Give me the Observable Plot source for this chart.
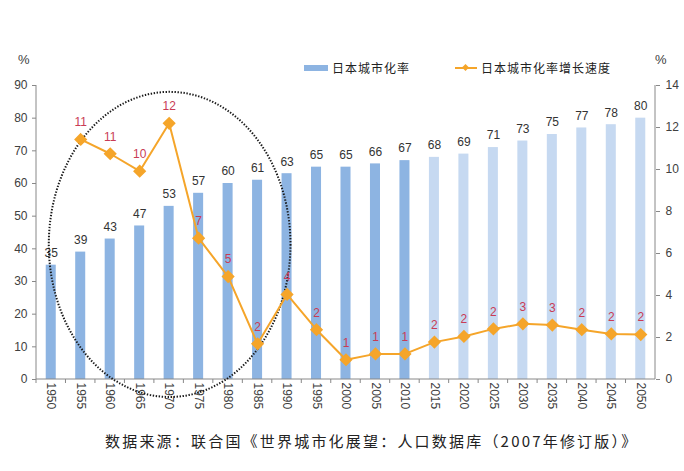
<!DOCTYPE html>
<html><head><meta charset="utf-8">
<script src="https://cdn.jsdelivr.net/npm/d3@7"></script>
<script src="https://cdn.jsdelivr.net/npm/@observablehq/plot@0.6"></script>
<style>
body{margin:0;background:#fff;font-family:"Liberation Sans",Arial,sans-serif;}
#wrap{position:relative;width:684px;height:471px;overflow:hidden;}
.cjk{font-family:"Noto Sans CJK SC",sans-serif;}
.abs{position:absolute;white-space:nowrap;}
</style></head>
<body><div id="wrap"></div>
<script>
const years = ["1950","1955","1960","1965","1970","1975","1980","1985","1990","1995","2000","2005","2010","2015","2020","2025","2030","2035","2040","2045","2050"];
const urbanRate = [35,39,43,47,53,57,60,61,63,65,65,66,67,68,69,71,73,75,77,78,80];
const growthYears = ["1955","1960","1965","1970","1975","1980","1985","1990","1995","2000","2005","2010","2015","2020","2025","2030","2035","2040","2045","2050"];
const growthRate = [11.43,10.75,9.92,12.2,6.73,4.9,1.7,4.05,2.37,0.94,1.22,1.22,1.78,2.05,2.41,2.65,2.59,2.37,2.17,2.14];
const growthLabels = ["11","11","10","12","7","5","2","4","2","1","1","1","2","2","2","3","3","2","2","2"];
const leftTicks = [0,10,20,30,40,50,60,70,80,90];
const rightTicks = [0,2,4,6,8,10,12,14];
const seriesNames = ["日本城市化率","日本城市化率增长速度"];
const caption = "数据来源：联合国《世界城市化展望：人口数据库（2007年修订版）》";

const k = 90/14;
const dark = "#8DB4E2", light = "#C6D9F1", orange = "#F5A52A", labelRed = "#c93c55";
const bars = years.map((y,i)=>({year:y, rate:urbanRate[i]}));
const growth = growthYears.map((y,i)=>({year:y, g:growthRate[i], label:growthLabels[i]}));

function frameAndEllipse(index, scales, values, dim) {
  const g = d3.create("svg:g");
  const x = scales.x, y = scales.y;
  const left = dim.marginLeft, right = dim.width - dim.marginRight, bottom = dim.height - dim.marginBottom, top = dim.marginTop;
  const step = (right-left)/years.length;
  const bw = typeof x.bandwidth === "function" ? x.bandwidth() : step*0.34;
  g.append("line").attr("x1",left).attr("x2",left).attr("y1",top).attr("y2",bottom).attr("stroke","#888");
  g.append("line").attr("x1",right).attr("x2",right).attr("y1",top).attr("y2",bottom).attr("stroke","#888");
  g.append("line").attr("x1",left).attr("x2",right).attr("y1",bottom).attr("y2",bottom).attr("stroke","#888");
  years.forEach(yr=>{
    const bx = x(yr) + bw/2 - step/2;
    g.append("line").attr("x1",bx).attr("x2",bx).attr("y1",bottom).attr("y2",bottom+4).attr("stroke","#888");
  });
  // dotted ellipse annotation around 1955-1985
  const cx = x("1970") + bw/2 + 1;
  const cy = y(41.2);
  const ry = (y(-5.5) - y(87.9))/2;
  const rx = step*4.1;
  g.append("ellipse").attr("cx",cx).attr("cy",cy).attr("rx",rx).attr("ry",ry)
    .attr("fill","none").attr("stroke","#1a1a1a").attr("stroke-width",2)
    .attr("stroke-dasharray","1.4 1.6");
  return g.node();
}

const chart = Plot.plot({
  width: 684, height: 420,
  marginLeft: 36, marginRight: 29, marginTop: 85, marginBottom: 41,
  style: {fontFamily: '"Liberation Sans", Arial, sans-serif', fontSize: "12px", background: "white", color: "#404040"},
  x: {type: "band", domain: years, paddingInner: 0.66, paddingOuter: 0.33, round: false},
  y: {domain: [0, 90]},
  marks: [
    Plot.barY(bars, {x: "year", y: "rate", fill: d => +d.year > 2010 ? light : dark}),
    Plot.axisY(leftTicks, {anchor: "left", tickSize: 4, tickPadding: 5, label: null, stroke: "#888", fill: "#404040", fontSize: 12}),
    Plot.axisY(rightTicks.map(v => v*k), {anchor: "right", tickSize: 4, tickPadding: 6, label: null, tickFormat: d => String(Math.round(d/k)), stroke: "#888", fill: "#404040", fontSize: 12}),
    Plot.axisX({tickRotate: 90, tickSize: 0, tickPadding: 3, label: null, fill: "#404040", fontSize: 12}),
    Plot.text(bars, {x: "year", y: "rate", text: d => String(d.rate), dy: -12, fill: "#333", fontSize: 12}),
    frameAndEllipse,
    Plot.line(growth, {x: "year", y: d => d.g*k, stroke: orange, strokeWidth: 2}),
    Plot.dot(growth, {x: "year", y: d => d.g*k, symbol: "diamond2", r: 5, fill: orange, stroke: orange}),
    Plot.text(growth, {x: "year", y: d => d.g*k, text: "label", dy: -17, fill: labelRed, fontSize: 12})
  ]
});
const wrap = document.getElementById("wrap");
wrap.appendChild(chart);

function addDiv(html, css, cls) {
  const d = document.createElement("div");
  d.className = "abs " + (cls||"");
  d.style.cssText = css;
  d.innerHTML = html;
  wrap.appendChild(d);
  return d;
}
addDiv("%", "left:18px;top:52px;font-size:13px;color:#404040;");
addDiv("%", "left:655px;top:52px;font-size:13px;color:#404040;");
addDiv("", `left:304px;top:65px;width:24px;height:6px;background:${dark};`);
addDiv(seriesNames[0], "left:332px;top:60px;font-size:12px;line-height:16px;letter-spacing:1px;color:#222;", "cjk");
addDiv("", `left:455px;top:67px;width:22px;height:2px;background:${orange};`);
addDiv("", `left:463px;top:65px;width:5px;height:5px;background:${orange};transform:rotate(45deg);`);
addDiv(seriesNames[1], "left:481px;top:60px;font-size:12px;line-height:16px;letter-spacing:1px;color:#222;", "cjk");
addDiv(caption, "left:105px;top:431px;font-size:15px;line-height:20px;letter-spacing:2.2px;color:#222;", "cjk");
</script></body></html>
